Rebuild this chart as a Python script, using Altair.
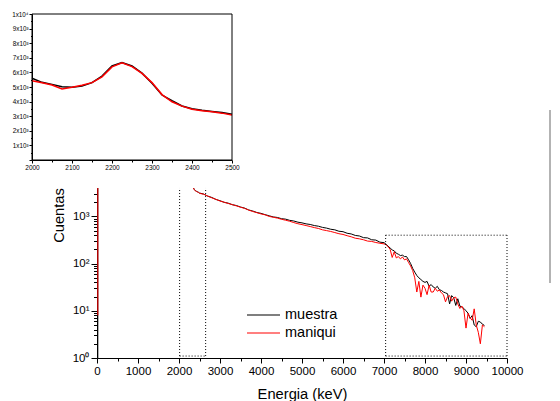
import altair as alt
import pandas as pd

FONT = "Liberation Sans"

# ---------------- data ----------------
series_names = ["muestra", "maniqui"]
series_colors = ["black", "red"]

# inset (2000-2500 keV, linear counts)
inset_energy = [2000, 2025, 2050, 2075, 2100, 2125, 2150, 2175, 2200, 2225, 2250,
                2275, 2300, 2325, 2350, 2375, 2400, 2425, 2450, 2475, 2500]
inset_muestra = [5600, 5320, 5180, 5020, 4980, 5060, 5300, 5750, 6440, 6680, 6440,
                 5950, 5250, 4450, 4060, 3700, 3510, 3410, 3330, 3250, 3130]
inset_maniqui = [5430, 5290, 5140, 4870, 4980, 5120, 5300, 5700, 6380, 6660, 6400,
                 5930, 5300, 4480, 3990, 3690, 3470, 3380, 3300, 3210, 3080]

# main spectrum, 2600-7000 keV
mid_energy = list(range(2600, 7001, 100))
mid_muestra = [2980, 2690, 2520, 2290, 2150, 1990, 1910, 1770, 1700, 1580,
               1500, 1370, 1300, 1210, 1160, 1090, 1030, 975, 950, 895,
               875, 825, 800, 755, 730, 695, 675, 640, 620, 585,
               565, 535, 520, 485, 475, 440, 425, 395, 385, 355,
               350, 320, 315, 285, 278]
mid_maniqui = [2960, 2700, 2480, 2300, 2120, 2000, 1880, 1780, 1670, 1570,
               1480, 1360, 1270, 1200, 1130, 1080, 1000, 960, 920, 870,
               830, 790, 740, 700, 670, 640, 610, 580, 555, 520,
               500, 480, 455, 430, 415, 390, 370, 345, 335, 320,
               300, 295, 280, 270, 262]

# main spectrum tail, 7050-9450 keV
tail_energy = list(range(7050, 9451, 50))
tail_muestra = [257, 234, 214, 195, 186, 166, 158, 148, 151, 141,
                141, 120, 100, 79, 66, 56, 50, 46, 42, 40,
                42, 33, 36, 32, 30, 33, 28, 27, 25, 24,
                23, 14, 21, 19, 13, 18, 12.6, 12, 11.2, 10,
                8.9, 6.9, 7.9, 5.0, 4.6, 6.0, 5.8, 5.2, 4.9]
tail_maniqui = [251, 229, 200, 135, 178, 132, 141, 126, 138, 120,
                126, 105, 89, 71, 50, 25, 42, 19.5, 35, 30,
                22, 35, 25, 25, 30, 26, 27.5, 24, 22, 15.5,
                20, 21, 16, 19, 19.5, 14, 11.2, 12.6, 10, 4.3,
                8.9, 7.1, 6.3, 11, 5.0, 3.5, 2.0, 5.0, 4.6]

# low-energy spike near 0 keV
spike_energy = [20, 20]
spike_muestra = [1, 100000]
spike_maniqui = [8, 100000]

# dotted zoom boxes
box_x0 = [2015, 2650, 2015, 7040, 7040, 10000, 7040]
box_x1 = [2015, 2650, 2650, 7040, 10000, 10000, 10000]
box_y0 = [1.1, 1.1, 1.1, 1.1, 400, 1.1, 1.1]
box_y1 = [4000, 4000, 1.1, 400, 400, 400, 1.1]

x_ticks = list(range(0, 10001, 500))
y_ticks = [1, 2, 3, 4, 5, 6, 7, 8, 9, 10, 20, 30, 40, 50, 60, 70, 80, 90,
           100, 200, 300, 400, 500, 600, 700, 800, 900, 1000, 2000, 3000]
inset_x_ticks = list(range(2000, 2501, 50))
inset_y_ticks = list(range(0, 10001, 500))

# ---------------- tables ----------------
rows = []
for name, spike, body_inset, body_mid, body_tail in [
        ("muestra", spike_muestra, inset_muestra, mid_muestra, tail_muestra),
        ("maniqui", spike_maniqui, inset_maniqui, mid_maniqui, tail_maniqui)]:
    for e, c in zip(spike_energy, spike):
        rows.append({"E": e, "C": c, "serie": name, "seg": "spike"})
    for e, c in zip(inset_energy + mid_energy + tail_energy, body_inset + body_mid + body_tail):
        rows.append({"E": e, "C": c, "serie": name, "seg": "body"})
main_df = pd.DataFrame(rows)

inset_df = pd.DataFrame(
    [{"E": e, "C": c, "serie": "muestra"} for e, c in zip(inset_energy, inset_muestra)] +
    [{"E": e, "C": c, "serie": "maniqui"} for e, c in zip(inset_energy, inset_maniqui)])

box_df = pd.DataFrame({"x0": box_x0, "x1": box_x1, "y0": box_y0, "y1": box_y1})
frame_df = pd.DataFrame({"x0": [inset_energy[0]], "x1": [inset_energy[-1]], "y0": [0], "y1": [10000]})

# ---------------- main plot ----------------
W, H = 410, 170

x_scale = alt.Scale(domain=[0, 10000], nice=False, zero=False)
y_scale = alt.Scale(type="log", domain=[1, 4000], nice=False)

x_axis = alt.Axis(
    orient="bottom", values=x_ticks, format="d",
    labelExpr="datum.value % 1000 === 0 ? datum.label : ''",
    tickSize={"condition": {"test": "datum.value % 1000 === 0", "value": 5}, "value": 3},
    labelFont=FONT, labelFontSize=11.5, labelColor="black", labelPadding=2,
    labelOverlap=False, labelFlush=False,
    tickColor="black", domainColor="black",
    title="Energia (keV)", titleFont=FONT, titleFontSize=14.7, titleFontWeight="normal",
    titleColor="black", titleBaseline="alphabetic", titleY=40)

y_axis = alt.Axis(
    orient="left", values=y_ticks,
    labelExpr="datum.value == 1 ? '10\u2070' : datum.value == 10 ? '10\u00b9' : "
              "datum.value == 100 ? '10\u00b2' : datum.value == 1000 ? '10\u00b3' : ''",
    tickSize={"condition": {"test": "indexof([1,10,100,1000], datum.value) >= 0", "value": 6}, "value": 3.5},
    labelFont=FONT, labelFontSize=11.5, labelColor="black", labelPadding=2,
    labelOverlap=False, labelFlush=False,
    tickColor="black", domainColor="black",
    title="Cuentas", titleFont=FONT, titleFontSize=14.7, titleFontWeight="normal",
    titleColor="black", titleAngle=270, titleAlign="center", titleBaseline="alphabetic",
    titleX=-34, titleY=27)

def main_line(name, col):
    return alt.Chart(main_df).transform_filter(alt.datum.serie == name).mark_line(
        strokeWidth=1, clip=True, color=col).encode(
        x=alt.X("E:Q", scale=x_scale, axis=x_axis),
        y=alt.Y("C:Q", scale=y_scale, axis=y_axis),
        detail="seg:N",
        order="E:Q")

boxes = alt.Chart(box_df).mark_rule(color="black", strokeWidth=1, strokeDash=[1, 2]).encode(
    x=alt.X("x0:Q", scale=x_scale, axis=x_axis),
    x2="x1:Q",
    y=alt.Y("y0:Q", scale=y_scale, axis=y_axis),
    y2="y1:Q")

# legend (drawn as a small key of its own)
legend_layers = []
for i, (name, col) in enumerate(zip(series_names, series_colors)):
    ldf = pd.DataFrame({"serie": [name]})
    ly = 127 + 18 * i
    legend_layers.append(alt.Chart(ldf).mark_rule(color=col, strokeWidth=1.2).encode(
        x=alt.value(150), x2=alt.value(183), y=alt.value(ly)))
    legend_layers.append(alt.Chart(ldf).mark_text(
        align="left", baseline="middle", font=FONT, fontSize=14.5, color="black").encode(
        x=alt.value(188), y=alt.value(ly), text="serie:N"))

main = alt.layer(main_line("muestra", "black"), main_line("maniqui", "red"), boxes)

# ---------------- inset ----------------
ix_scale = alt.Scale(domain=[2000, 2500], range=[-65, 135], nice=False, zero=False)
iy_scale = alt.Scale(domain=[0, 10000], range=[-28, -174], nice=False)

ix_axis = alt.Axis(
    orient="bottom", offset=-198, values=inset_x_ticks, format="d",
    labelExpr="datum.value % 100 === 0 ? datum.label : ''",
    tickSize={"condition": {"test": "datum.value % 100 === 0", "value": 3}, "value": 2},
    labelFont=FONT, labelFontSize=6.5, labelColor="black", labelPadding=1,
    labelOverlap=False, labelFlush=False,
    tickColor="black", domainColor="black", title="")

iy_axis = alt.Axis(
    orient="left", offset=65, values=inset_y_ticks,
    labelExpr="datum.value > 0 && datum.value % 1000 === 0 ? "
              "(datum.value === 10000 ? '1x10\u2074' : (datum.value / 1000) + 'x10\u00b3') : ''",
    tickSize={"condition": {"test": "datum.value % 1000 === 0", "value": 3}, "value": 1.5},
    labelFont=FONT, labelFontSize=6.3, labelColor="black", labelPadding=1,
    labelOverlap=False, labelFlush=False,
    tickColor="black", domainColor="black", title="")

def inset_line(name, col):
    return alt.Chart(inset_df).transform_filter(alt.datum.serie == name).mark_line(
        strokeWidth=1.5, color=col).encode(
        x=alt.X("E:Q", scale=ix_scale, axis=ix_axis),
        y=alt.Y("C:Q", scale=iy_scale, axis=iy_axis),
        order="E:Q")

frame = alt.Chart(frame_df).mark_rect(fillOpacity=0, stroke="black", strokeWidth=1).encode(
    x=alt.X("x0:Q", scale=ix_scale, axis=ix_axis),
    x2="x1:Q",
    y=alt.Y("y0:Q", scale=iy_scale, axis=iy_axis),
    y2="y1:Q")

inset = alt.layer(inset_line("muestra", "black"), inset_line("maniqui", "red"), frame)

# remnant of a neighbouring figure at the right edge
remnant = alt.Chart(pd.DataFrame({"k": [0]})).mark_rule(color="#9a9a9a", strokeWidth=1.5).encode(
    x=alt.value(453), y=alt.value(-78), y2=alt.value(95))

chart = alt.layer(main, inset, remnant, *legend_layers).resolve_scale(
    x="independent", y="independent").properties(
    width=W, height=H,
    autosize=alt.AutoSizeParams(type="none"),
    padding={"left": 89, "top": 180, "right": 45, "bottom": 43},
).configure_view(strokeWidth=0).configure_axis(grid=False)

chart.save("out.html", embed_options={"renderer": "svg", "actions": False})
